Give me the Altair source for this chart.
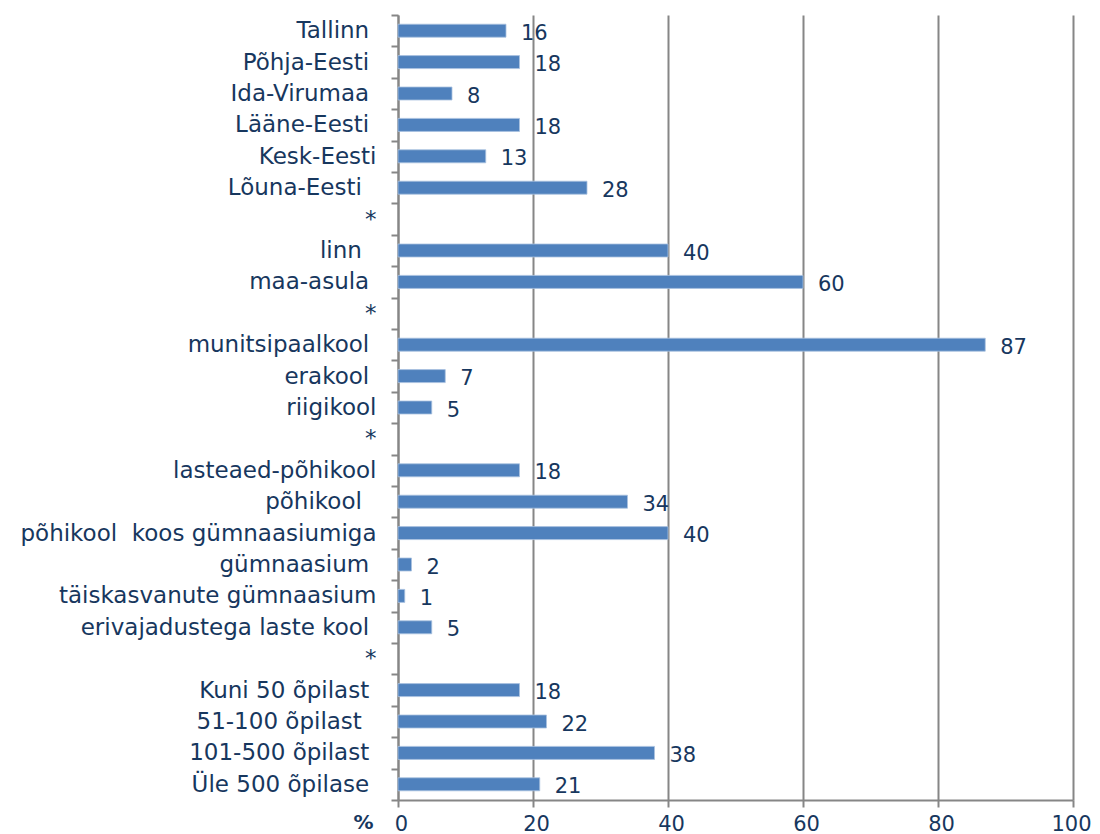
import json
import altair as alt
import pandas as pd

NB = "\u00a0"
Z = "\u200b"
labels = [
    "Tallinn" + NB + Z, "Põhja-Eesti" + NB + Z, "Ida-Virumaa" + NB + Z, "Lääne-Eesti" + NB + Z,
    "Kesk-Eesti", "Lõuna-Eesti" + NB * 2 + Z, "*",
    "linn" + NB * 2 + Z, "maa-asula" + NB + Z, "*",
    "munitsipaalkool" + NB + Z, "erakool" + NB + Z, "riigikool", "*",
    "lasteaed-põhikool", "põhikool" + NB * 2 + Z, "põhikool" + NB * 2 + "koos gümnaasiumiga",
    "gümnaasium" + NB + Z, "täiskasvanute gümnaasium", "erivajadustega laste kool" + NB + Z, "*",
    "Kuni 50 õpilast" + NB + Z, "51-100 õpilast" + NB * 2 + Z, "101-500 õpilast" + NB + Z,
    "Üle 500 õpilase" + NB + Z,
]
values = [16, 18, 8, 18, 13, 28, None, 40, 60, None, 87, 7, 5, None,
          18, 34, 40, 2, 1, 5, None, 18, 22, 38, 21]
x_ticks = [0, 20, 40, 60, 80, 100]

keys = [f"r{i:02d}" for i in range(len(labels))]
df = pd.DataFrame({"key": keys, "value": values})

label_expr = json.dumps(labels, ensure_ascii=False) + "[toNumber(substring(datum.value, 1))]"

TXT = "#17375E"
GRID = "#868686"
FONT = "DejaVu Sans"

y_enc = alt.Y("key:N", sort=keys, scale=alt.Scale(paddingInner=0, paddingOuter=0),
              axis=alt.Axis(title=None, labelExpr=label_expr, labelFontSize=23,
                            labelColor=TXT, labelFont=FONT, labelPadding=15,
                            tickBand="extent", tickSize=7, ticks=True,
                            domainColor=GRID, domainWidth=2, tickColor=GRID, tickWidth=2,
                            grid=False, labelLimit=500))

x_enc = alt.X("value:Q", scale=alt.Scale(domain=[0, 100], nice=False),
              axis=alt.Axis(values=x_ticks, title="%", titleFontSize=20, titleFont=FONT,
                            titleFontWeight="bold", titleColor=TXT, titleX=-25, titleY=22,
                            titleAlign="right", titleBaseline="middle", titleAnchor="start",
                            labelFontSize=21, labelColor=TXT, labelFont=FONT, labelPadding=6,
                            labelFlush=False, labelOverlap=False,
                            labelAlign={"condition": {"test": "datum.value == 100", "value": "right"},
                                        "value": "center"},
                            labelOffset={"condition": {"test": "datum.value == 100", "value": 18},
                                         "value": 3},
                            tickSize=7, tickColor=GRID, tickWidth=2,
                            domainColor=GRID, domainWidth=2,
                            grid=True, gridColor=GRID, gridWidth=2))

base = alt.Chart(df)

bars = base.mark_bar(size=13, color="#4F81BD", stroke="#A9C1E0", strokeWidth=0.8).encode(
    x=x_enc, y=y_enc
)

text = base.transform_filter("datum.value != null").mark_text(
    align="left", baseline="middle", dx=15, dy=3, fontSize=21, font=FONT, color=TXT
).encode(
    x=alt.X("value:Q"), y=alt.Y("key:N", sort=keys), text=alt.Text("value:Q")
)

chart = (bars + text).properties(
    width=675, height=785,
    autosize=alt.AutoSizeParams(type="none"),
    padding={"left": 390, "top": 7, "right": 19, "bottom": 34},
).configure_view(stroke=None)

chart.save("out.html", embed_options={"renderer": "svg", "actions": False})
